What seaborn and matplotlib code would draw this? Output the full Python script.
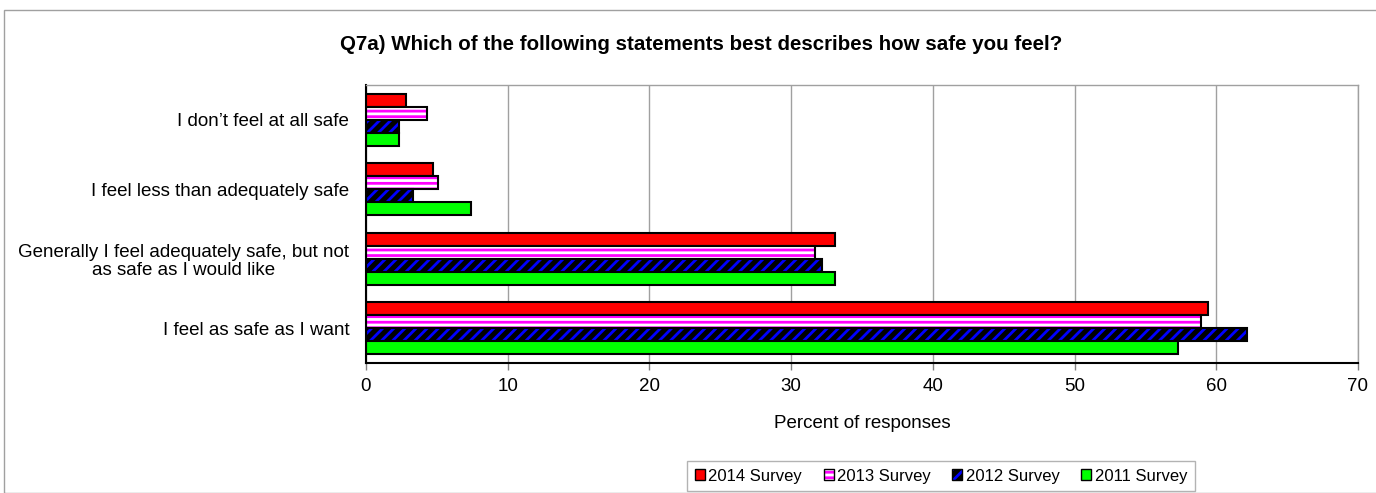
import numpy as np
import pandas as pd
import matplotlib
matplotlib.use("Agg")
import matplotlib.pyplot as plt
import matplotlib.colors as mcolors
from matplotlib.patches import Rectangle, Patch
import seaborn as sns

categories = [
    "I don\u2019t feel at all safe",
    "I feel less than adequately safe",
    "Generally I feel adequately safe, but not\nas safe as I would like",
    "I feel as safe as I want",
]
series = ["2014 Survey", "2013 Survey", "2012 Survey", "2011 Survey"]
v2014 = [2.8, 4.7, 33.1, 59.4]
v2013 = [4.3, 5.1, 31.7, 58.9]
v2012 = [2.3, 3.3, 32.2, 62.2]
v2011 = [2.3, 7.4, 33.1, 57.3]
xticks = [0, 10, 20, 30, 40, 50, 60, 70]

sns.set_theme(style="white")
plt.rcParams['font.family'] = ['Liberation Sans', 'DejaVu Sans']
plt.rcParams['hatch.linewidth'] = 2.0
plt.rcParams['text.color'] = 'black'
plt.rcParams['axes.labelcolor'] = 'black'
plt.rcParams['xtick.labelcolor'] = 'black'
plt.rcParams['ytick.labelcolor'] = 'black'

rows = []
for s, vals in zip(series, [v2014, v2013, v2012, v2011]):
    for c, v in zip(categories, vals):
        rows.append({"category": c, "series": s, "value": v})
df = pd.DataFrame(rows)

faces = {"2014 Survey": "#FF0000", "2013 Survey": "#FF00FF",
         "2012 Survey": "#000000", "2011 Survey": "#00FF00"}
hatches = {"2014 Survey": None, "2013 Survey": "---",
           "2012 Survey": "///", "2011 Survey": None}
hatch_cols = {"2013 Survey": "#FFFFFF", "2012 Survey": "#0000FF"}

fig = plt.figure(figsize=(13.76, 4.93), dpi=100)
ax = fig.add_axes([366/1376, 1-363/493, (1358-366)/1376, (363-85)/493])

sns.barplot(data=df, y="category", x="value", hue="series", order=categories,
            hue_order=series, palette=faces, orient="h", width=0.75,
            dodge=True, ax=ax, legend=False, edgecolor="black", linewidth=1.5,
            saturation=1)

for container, s in zip(ax.containers, series):
    for p in container:
        p.set_edgecolor("black")
        if hatches[s]:
            p.set_hatch(hatches[s])
            p._hatch_color = mcolors.to_rgba(hatch_cols[s])

ax.set_xlim(0, 70)
ax.set_ylim(3.5, -0.5)
ax.set_xticks(xticks)
ax.set_xticklabels([str(t) for t in xticks], fontsize=13.5)
ax.tick_params(axis="x", length=5, width=1, color="#808080", labelcolor="black",
               direction="out", bottom=True, pad=6)
ax.tick_params(axis="y", length=0, labelsize=13.5, pad=12, labelcolor="black")
for lbl in ax.get_yticklabels():
    lbl.set_multialignment("center")
    lbl.set_linespacing(1.1)
ax.set_ylabel("")
ax.set_xlabel("Percent of responses", fontsize=13.5, labelpad=14, color="black")
ax.grid(axis="x", color="#A0A0A0", linewidth=1)
ax.set_axisbelow(True)
for side in ["top", "right"]:
    ax.spines[side].set_color("#A0A0A0")
    ax.spines[side].set_linewidth(1)
for side in ["left", "bottom"]:
    ax.spines[side].set_color("black")
    ax.spines[side].set_linewidth(1.5)

fig.text(701/1376, 1 - 44/493, "Q7a) Which of the following statements best describes how safe you feel?",
         ha="center", va="center", fontsize=14.8, fontweight="bold", color="black")

handles = []
for s in series:
    h = Patch(facecolor=faces[s], edgecolor="black", linewidth=1,
              hatch=hatches[s] if hatches[s] else None)
    if hatches[s]:
        h._hatch_color = mcolors.to_rgba(hatch_cols[s])
    handles.append(h)
leg = fig.legend(handles, series, loc="center", bbox_to_anchor=(941/1376, 1 - 476/493),
                 ncol=4, frameon=True, fontsize=12, handlelength=0.6, handleheight=0.6,
                 handletextpad=0.2, columnspacing=1.3, borderpad=0.45, fancybox=False,
                 borderaxespad=0, labelcolor="black")
leg.get_frame().set_edgecolor("#A0A0A0")
leg.get_frame().set_linewidth(1)

fig.add_artist(Rectangle((4/1376, 0), 1.0, 1 - 10/493, transform=fig.transFigure,
                         fill=False, edgecolor="#A0A0A0", linewidth=1))

fig.savefig("out.png", dpi=100)
